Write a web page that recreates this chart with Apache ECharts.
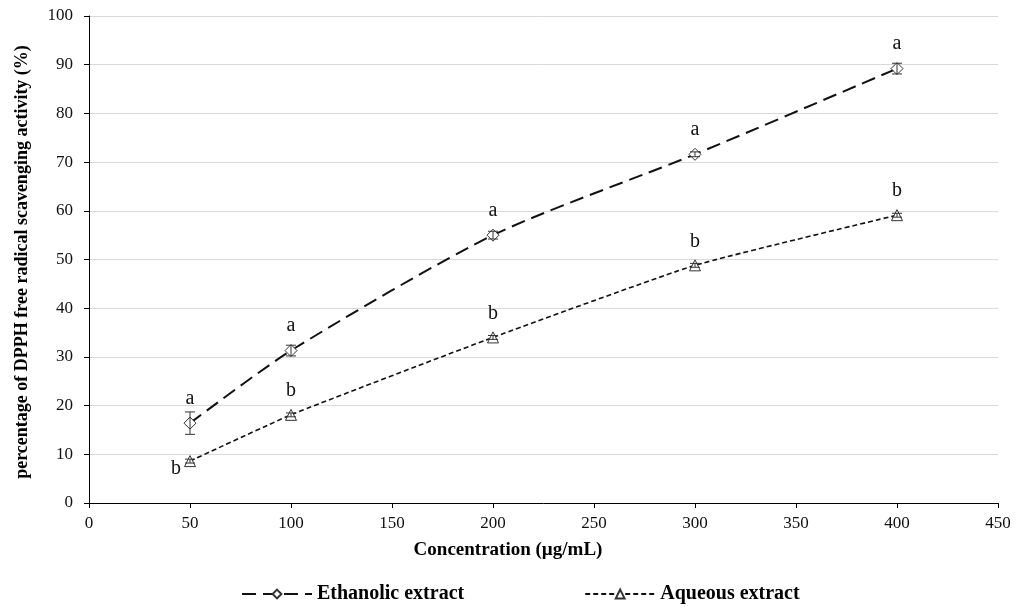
<!DOCTYPE html>
<html>
<head>
<meta charset="utf-8">
<script src="https://cdn.jsdelivr.net/npm/echarts@6/dist/echarts.min.js"></script>
<style>html,body{margin:0;padding:0;background:#fff}#c{width:1016px;height:610px}</style>
</head>
<body>
<div id="c"></div>
<script>
const concentrations = [50, 100, 200, 300, 400];
const ethanolic = [16.4, 31.3, 55.0, 71.6, 89.2];
const ethanolicErr = [2.3, 1.1, 0.8, 0.5, 1.1];
const ethanolicLetters = ['a', 'a', 'a', 'a', 'a'];
const aqueous = [8.6, 18.1, 34.0, 48.8, 59.1];
const aqueousErr = [0.4, 0.4, 0.4, 0.4, 0.4];
const aqueousLetters = ['b', 'b', 'b', 'b', 'b'];
const xTicks = [0, 50, 100, 150, 200, 250, 300, 350, 400, 450];
const yTicks = [0, 10, 20, 30, 40, 50, 60, 70, 80, 90, 100];

const FONT = '"Liberation Serif", "Times New Roman", serif';
const chart = echarts.init(document.getElementById('c'));

function pts(xs, ys, letters, special) {
  return xs.map((x, i) => {
    const item = { value: [x, ys[i]], label: { formatter: letters[i] } };
    if (special && special[i]) item.label = Object.assign(item.label, special[i]);
    return item;
  });
}
function errData(xs, ys, es) { return xs.map((x, i) => [x, ys[i], es[i]]); }

function errRender(params, api) {
  const x = api.value(0), y = api.value(1), e = api.value(2);
  const top = api.coord([x, y + e]);
  const bot = api.coord([x, y - e]);
  const cap = 5;
  const style = { stroke: '#333', lineWidth: 1 };
  return { type: 'group', children: [
    { type: 'line', shape: { x1: top[0], y1: top[1], x2: bot[0], y2: bot[1] }, style },
    { type: 'line', shape: { x1: top[0] - cap, y1: top[1], x2: top[0] + cap, y2: top[1] }, style },
    { type: 'line', shape: { x1: bot[0] - cap, y1: bot[1], x2: bot[0] + cap, y2: bot[1] }, style }
  ]};
}

const letterLabel = { show: true, position: 'top', distance: 8, fontFamily: FONT, fontSize: 20, color: '#111' };

chart.setOption({
  animation: false,
  backgroundColor: '#fff',
  grid: { left: 89, right: 18, top: 16, bottom: 107 },
  xAxis: {
    type: 'value', min: 0, max: 450, interval: 50,
    axisLine: { show: true, lineStyle: { color: '#000', width: 1 } },
    axisTick: { show: true, length: 5, lineStyle: { color: '#000' } },
    axisLabel: { fontFamily: FONT, fontSize: 17, color: '#111', margin: 12,
      formatter: v => xTicks.includes(v) ? String(v) : '' },
    splitLine: { show: false }
  },
  yAxis: {
    type: 'value', min: 0, max: 100, interval: 10,
    axisLine: { show: true, lineStyle: { color: '#000', width: 1 } },
    axisTick: { show: true, length: 5, lineStyle: { color: '#000' } },
    axisLabel: { fontFamily: FONT, fontSize: 17, color: '#111', margin: 16,
      formatter: v => yTicks.includes(v) ? String(v) : '' },
    splitLine: { show: true, lineStyle: { color: '#d9d9d9', width: 1 } }
  },
  legend: {
    bottom: 1, left: 236, itemGap: 120, itemWidth: 70, itemHeight: 11,
    textStyle: { fontFamily: FONT, fontSize: 20, fontWeight: 'bold', color: '#000' },
    data: ['Ethanolic extract', 'Aqueous extract']
  },
  graphic: [
    { type: 'text', left: 'center', top: 541, style: { text: 'Concentration (µg/mL)', font: 'bold 19px ' + FONT, fill: '#000' } },
    { type: 'text', x: 22, y: 262, rotation: Math.PI / 2, style: { text: 'percentage of DPPH free radical scavenging activity (%)', font: 'bold 18px ' + FONT, fill: '#000', align: 'center', verticalAlign: 'middle' } }
  ],
  series: [
    {
      name: 'Ethanolic extract', type: 'line', smooth: 0.25,
      data: pts(concentrations, ethanolic, ethanolicLetters),
      symbol: 'diamond', symbolSize: 12, showAllSymbol: true,
      itemStyle: { color: '#fff', borderColor: '#333', borderWidth: 1 },
      lineStyle: { color: '#111', width: 2, type: [14, 7] },
      label: letterLabel, z: 3
    },
    {
      name: 'Aqueous extract', type: 'line', smooth: 0.15,
      data: pts(concentrations, aqueous, aqueousLetters, [{ position: [-13, 4] }]),
      symbol: 'triangle', symbolSize: 11, showAllSymbol: true,
      itemStyle: { color: '#fff', borderColor: '#333', borderWidth: 1 },
      lineStyle: { color: '#111', width: 1.6, type: [5, 3] },
      label: letterLabel, z: 3
    },
    { type: 'custom', renderItem: errRender, data: errData(concentrations, ethanolic, ethanolicErr), z: 4, silent: true },
    { type: 'custom', renderItem: errRender, data: errData(concentrations, aqueous, aqueousErr), z: 4, silent: true }
  ]
});
</script>
</body>
</html>
